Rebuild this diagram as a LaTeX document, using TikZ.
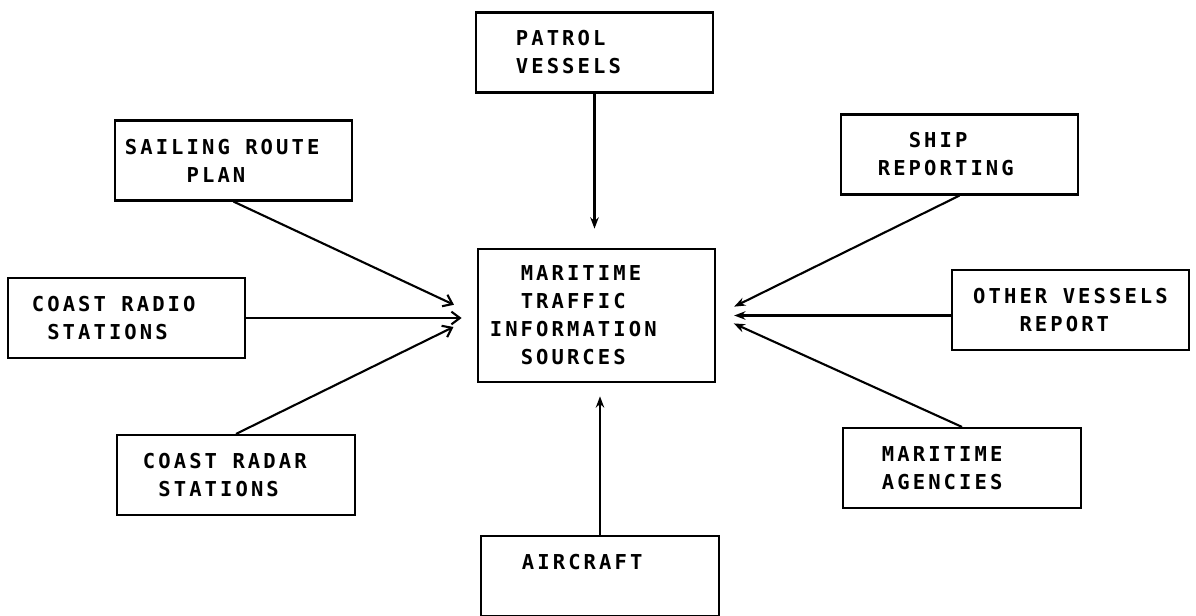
\documentclass[tikz,border=0pt]{standalone}
\usepackage{fontspec}
\newfontfamily\plotter{DejaVu Sans Mono}[LetterSpace=15]
\newcommand{\blank}{\hphantom{M}\hspace{0.15em}}
\usetikzlibrary{arrows.meta, positioning}

\begin{document}
\begin{tikzpicture}[
    x=0.025cm, y=-0.025cm,
    box/.style={draw, line width=1.5pt, minimum height=2cm,
                minimum width=5.93cm, align=left, inner sep=0pt,
                font=\plotter\bfseries\fontsize{14.6pt}{19.9pt}\selectfont},
    feed/.style={line width=1.5pt},
    barb/.style={-{Straight Barb[length=6pt, width=9pt]}},
    >={Stealth[length=8pt, width=6pt]}
  ]
  \useasboundingbox (0,0) rectangle (1196,616);

  % Central box
  \node[box, minimum height=3.33cm, text width=5.33cm] (cen) at (596.5,315.5)
    {\blank\blank MARITIME\\\blank\blank TRAFFIC\\INFORMATION\\\blank\blank SOURCES};

  % Sources on the left
  \node[box, text width=5.43cm] (sail) at (233.5,160.5)
    {SAILING\blank ROUTE\\\blank\blank\blank\blank PLAN};
  \node[box, text width=4.73cm] (radio) at (126.5,318)
    {COAST\blank RADIO\\\blank STATIONS};
  \node[box, text width=4.65cm] (radar) at (236,475)
    {COAST\blank RADAR\\\blank STATIONS};

  % Sources above and below
  \node[box, text width=3.93cm] (patrol) at (594.5,52.5) {PATROL\\VESSELS};
  \node[box, text width=3.9cm] (air) at (600,576) {AIRCRAFT\\\mbox{}};

  % Sources on the right
  \node[box, text width=4.08cm] (ship) at (959.5,154.5)
    {\blank\blank SHIP\\REPORTING};
  \node[box] (other) at (1070.5,310)
    {OTHER\blank VESSELS\\\blank\blank\blank REPORT};
  \node[box, text width=4cm] (agency) at (962,468) {MARITIME\\AGENCIES};

  % Left arrows
  \draw[feed, barb, shorten >=0.63cm] (sail.south) -- (cen.west);
  \draw[feed, barb, shorten >=0.38cm] (radio.east) -- (radio.east -| cen.west);
  \draw[feed, barb, shorten >=0.65cm] (radar.north) -- (cen.west);

  % Vertical arrows
  \draw[feed, ->, shorten >=0.48cm] (patrol.south) -- (patrol.south |- cen.north);
  \draw[feed, ->, shorten >=0.33cm] (air.north) -- (air.north |- cen.south);

  % Right arrows
  \draw[feed, ->, shorten >=0.5cm] (ship.south) -- (cen.east);
  \draw[feed, ->, shorten >=0.45cm] (other.west |- cen.east) -- (cen.east);
  \draw[feed, ->, shorten >=0.48cm] (agency.north) -- (cen.east);

\end{tikzpicture}
\end{document}
